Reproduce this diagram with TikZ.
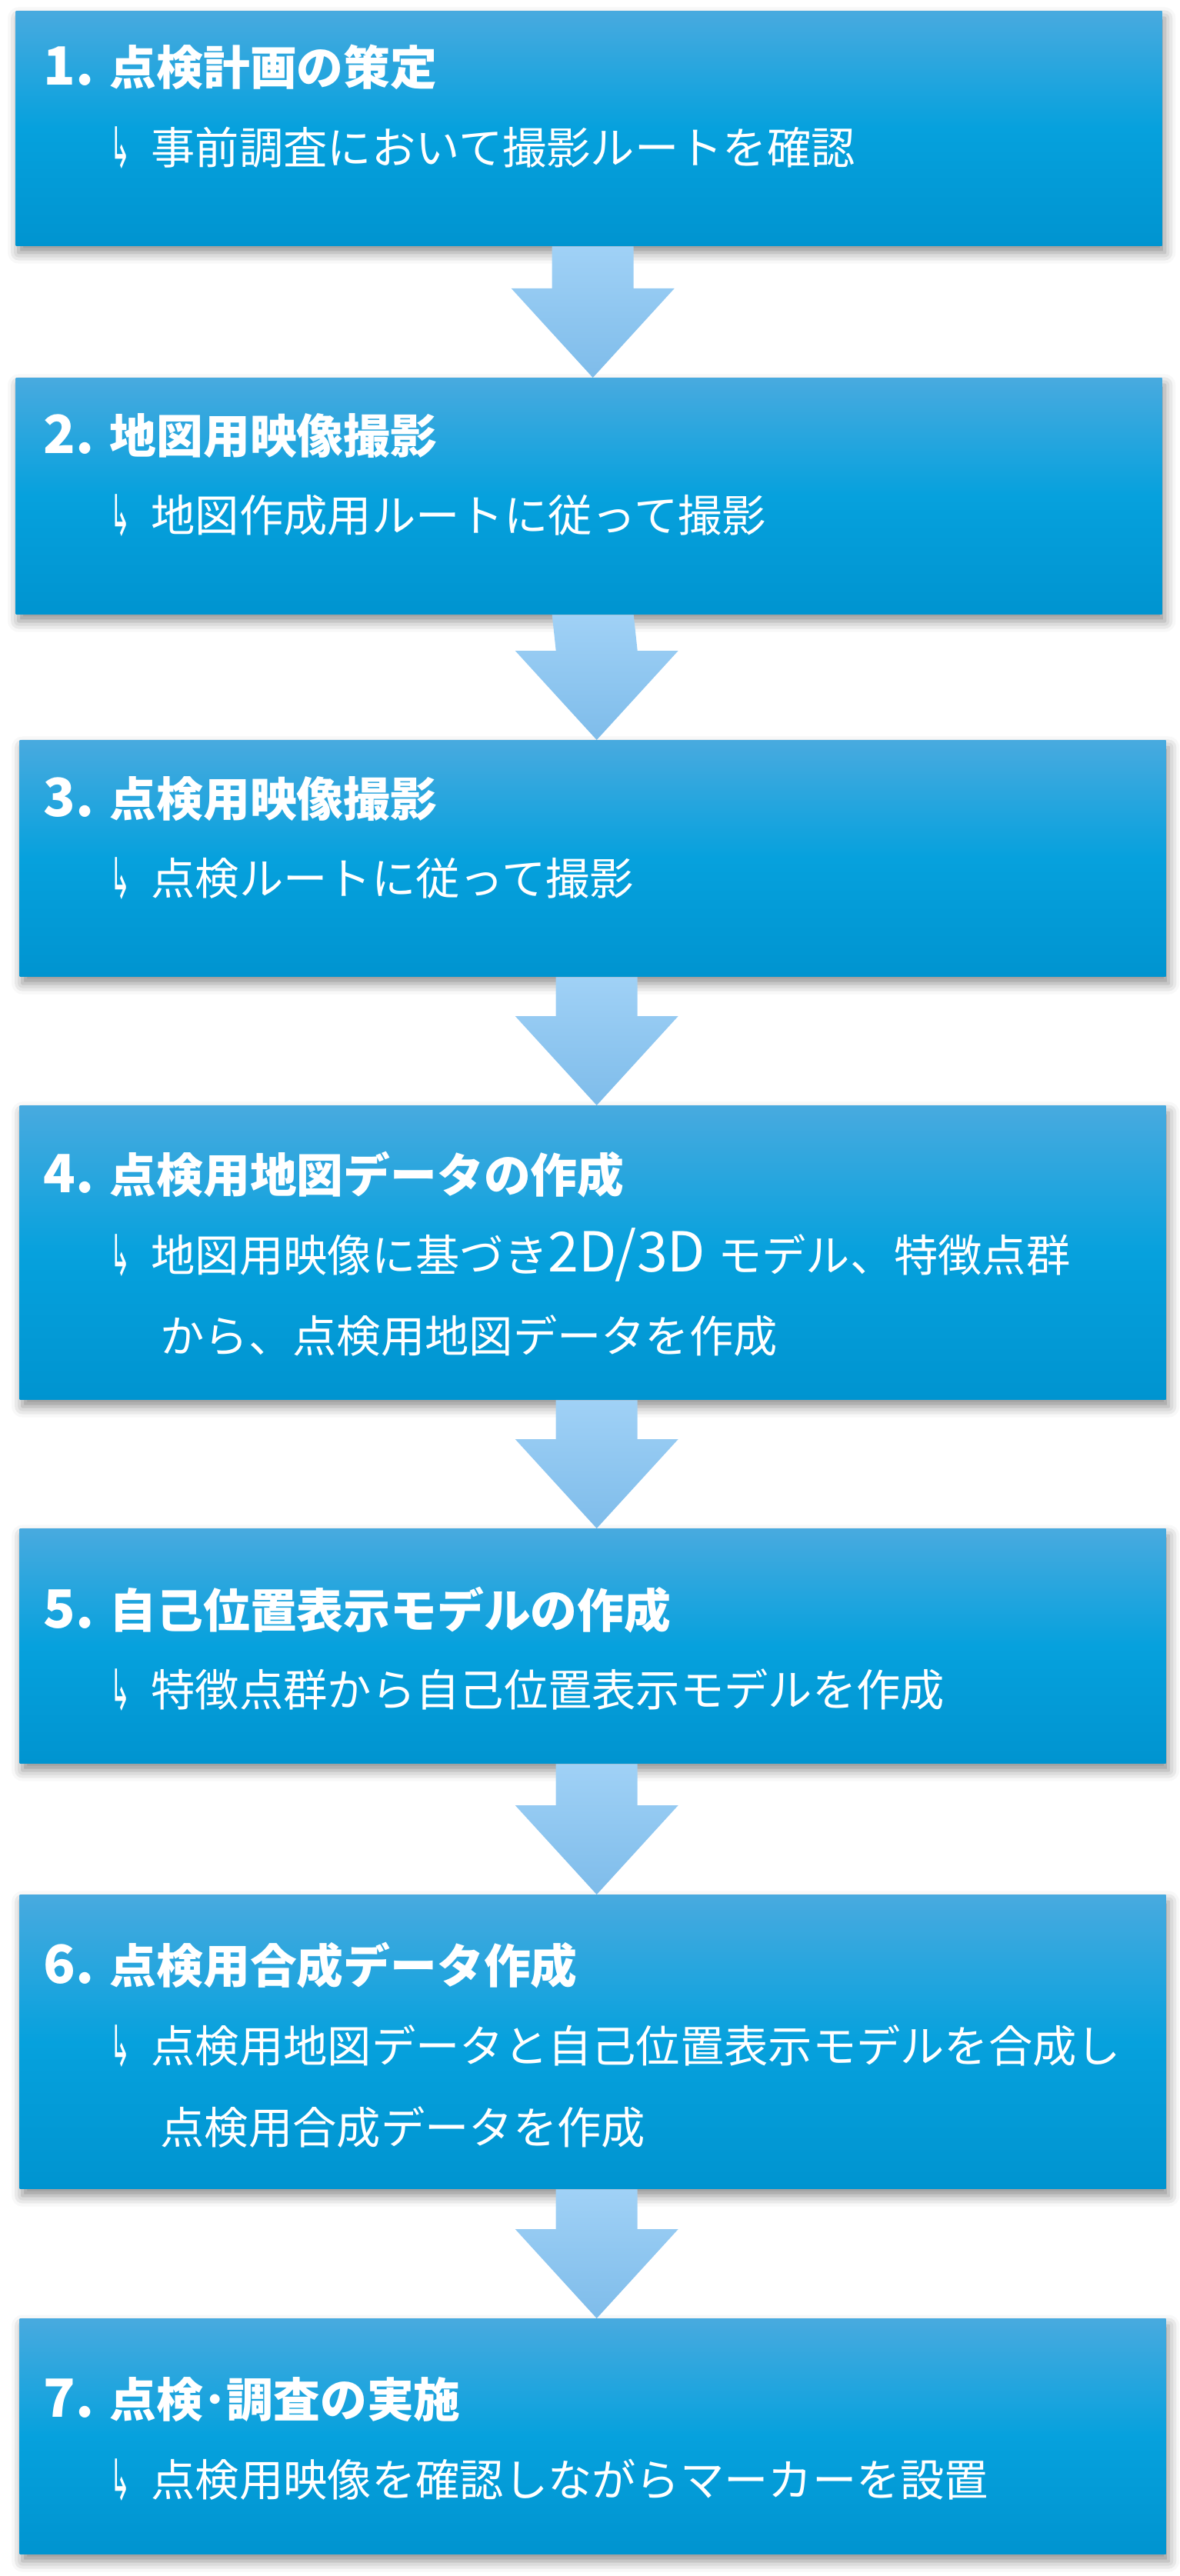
\documentclass[tikz,border=0pt]{standalone}
\usepackage{fontspec}
\usepackage{graphicx}
\setmainfont{Noto Sans CJK JP}
\newfontfamily\arrowfont{DejaVu Sans}
\definecolor{boxtop}{HTML}{48AADF}
\definecolor{boxmid}{HTML}{06A1DD}
\definecolor{boxbot}{HTML}{0094D0}
\definecolor{arrtop}{HTML}{A0D1F6}
\definecolor{arrbot}{HTML}{7EBCEA}
\newcommand{\hook}{\makebox[0.53cm][l]{\raisebox{-0.05cm}{\arrowfont\fontsize{21}{21}\selectfont\scalebox{0.42}[1]{↳}}}}
\newcommand{\stepno}[1]{\makebox[0.86cm][l]{\fontsize{19.5}{20}\selectfont #1.}}
\newcommand{\latin}[1]{{\fontsize{20.4}{20}\selectfont #1}}
\usetikzlibrary{calc,shadows.blur}

\begin{document}
\begin{tikzpicture}[
    stepbox/.style={anchor=north west, inner sep=0pt, minimum width=14.9cm,
        top color=boxtop, bottom color=boxbot, middle color=boxmid,
        blur shadow={shadow xshift=1pt, shadow yshift=-2.5pt,
        shadow blur radius=4pt, shadow opacity=45}},
    heading/.style={anchor=base west, inner sep=0pt, text=white,
        font={\fontsize{17.3}{20}\selectfont\bfseries}},
    detail/.style={anchor=base west, inner sep=0pt, text=white,
        font={\fontsize{16.3}{20}\selectfont}},
    flow/.style={top color=arrtop, bottom color=arrbot},
    ]
    \useasboundingbox (0,0) rectangle (15.34,-33.49);

    % Step boxes
    \node[stepbox, minimum height=3.05cm] (step1) at (0.20,-0.14) {};
    \node[stepbox, minimum height=3.07cm] (step2) at (0.20,-4.91) {};
    \node[stepbox, minimum height=3.07cm] (step3) at (0.25,-9.62) {};
    \node[stepbox, minimum height=3.82cm] (step4) at (0.25,-14.37) {};
    \node[stepbox, minimum height=3.05cm] (step5) at (0.25,-19.87) {};
    \node[stepbox, minimum height=3.82cm] (step6) at (0.25,-24.63) {};
    \node[stepbox, minimum height=3.06cm] (step7) at (0.25,-30.14) {};

    % Block arrows between the steps
    \foreach \a/\b in {step1/step2,step2/step3,step3/step4,step4/step5,step5/step6,step6/step7}
        \path[flow] ($(\a.south)+(-0.48,0)$) -- ($(\a.south)+(0.58,0)$)
            -- ($(\b.north)+(0.58,1.16)$) -- ($(\b.north)+(1.11,1.16)$)
            -- ($(\b.north)+(0.05,0)$) -- ($(\b.north)+(-1.01,1.16)$)
            -- ($(\b.north)+(-0.48,1.16)$) -- cycle;

    % Texts
    \node[heading] (head1) at (0.56,-1.11) {\stepno{1}点検計画の策定};
    \node[detail] (note1) at (1.43,-2.14) {\hook 事前調査において撮影ルートを確認};

    \node[heading] (head2) at (0.56,-5.90) {\stepno{2}地図用映像撮影};
    \node[detail] (note2) at (1.43,-6.91) {\hook 地図作成用ルートに従って撮影};

    \node[heading] (head3) at (0.56,-10.61) {\stepno{3}点検用映像撮影};
    \node[detail] (note3) at (1.43,-11.63) {\hook 点検ルートに従って撮影};

    \node[heading] (head4) at (0.56,-15.50) {\stepno{4}点検用地図データの作成};
    \node[detail] (note4) at (1.43,-16.53) {\hook 地図用映像に基づき\latin{2D/3D }モデル、特徴点群};
    \node[detail] (note4b) at (2.08,-17.58) {から、点検用地図データを作成};

    \node[heading] (head5) at (0.56,-21.16) {\stepno{5}自己位置表示モデルの作成};
    \node[detail] (note5) at (1.43,-22.18) {\hook 特徴点群から自己位置表示モデルを作成};

    \node[heading] (head6) at (0.56,-25.78) {\stepno{6}点検用合成データ作成};
    \node[detail] (note6) at (1.43,-26.81) {\hook 点検用地図データと自己位置表示モデルを合成し};
    \node[detail] (note6b) at (2.08,-27.87) {点検用合成データを作成};

    \node[heading] (head7) at (0.56,-31.42) {\stepno{7}点検･調査の実施};
    \node[detail] (note7) at (1.43,-32.45) {\hook 点検用映像を確認しながらマーカーを設置};

\end{tikzpicture}
\end{document}
